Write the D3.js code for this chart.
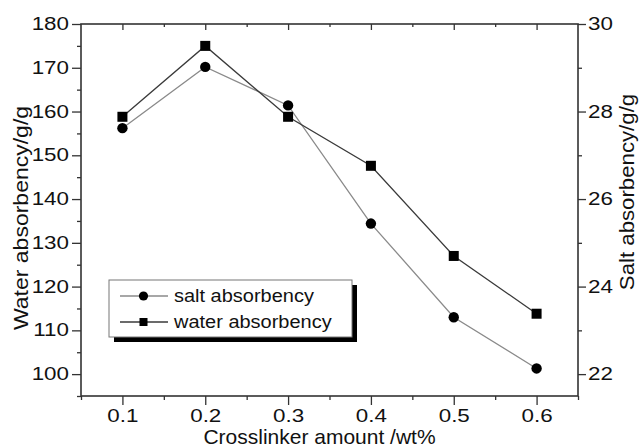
<!DOCTYPE html>
<html>
<head>
<meta charset="utf-8">
<script src="https://cdn.jsdelivr.net/npm/d3@7"></script>
<style>
  html, body { margin: 0; padding: 0; background: #fff; }
  svg { display: block; font-family: "Liberation Sans", Arial, sans-serif; }
</style>
</head>
<body>
<svg id="chart" width="639" height="448"></svg>
<script>
// Crosslinker amount (wt%) against water and salt absorbency (g/g)
const crosslinker = [0.1, 0.2, 0.3, 0.4, 0.5, 0.6];
const waterAbsorbency = [158.8, 175.0, 158.8, 147.6, 127.0, 113.8];
const saltAbsorbency = [27.62, 29.02, 28.14, 25.44, 23.30, 22.13];
const xTicks = [0.1, 0.2, 0.3, 0.4, 0.5, 0.6];
const xMinorTicks = [0.05, 0.15, 0.25, 0.35, 0.45, 0.55, 0.65];
const waterTicks = [100, 110, 120, 130, 140, 150, 160, 170, 180];
const waterMinorTicks = [95, 105, 115, 125, 135, 145, 155, 165, 175];
const saltTicks = [22, 24, 26, 28, 30];
const saltMinorTicks = [23, 25, 27, 29];
const legendLabels = ["salt absorbency", "water absorbency"];

const svg = d3.select("#chart");
const plotL = 81, plotR = 578, plotT = 24, plotB = 396;
const axisColor = "#333";
const textColor = "#111";
const tickFont = 17.5, tickStretch = 1.28;

const x = d3.scaleLinear().domain([0.05, 0.65]).range([plotL, plotR]);
const yWater = d3.scaleLinear().domain([95, 180]).range([plotB, plotT]);
const ySalt = d3.scaleLinear().domain([21.5, 30]).range([plotB, plotT]);

// Widen glyphs horizontally while keeping each label anchored in place
function widen(textSel, sx) {
  textSel.each(function () {
    const t = d3.select(this);
    const x0 = +t.attr("x") || 0;
    t.attr("x", x0 / sx).attr("transform", `scale(${sx},1)`);
  });
}

function styleAxis(g) {
  g.select(".domain").remove();
  g.selectAll(".tick line").attr("stroke", axisColor).attr("stroke-width", 1.3);
  const txt = g.selectAll(".tick text").attr("fill", textColor)
    .style("font-size", tickFont + "px")
    .style("font-family", '"Liberation Sans", Arial, sans-serif');
  widen(txt, tickStretch);
}

// Bottom axis
svg.append("g").attr("transform", `translate(0,${plotB})`)
  .call(d3.axisBottom(x).tickValues(xMinorTicks).tickSize(4).tickFormat(""))
  .call(styleAxis);
svg.append("g").attr("transform", `translate(0,${plotB})`)
  .call(d3.axisBottom(x).tickValues(xTicks).tickSize(9).tickPadding(5).tickFormat(d3.format(".1f")))
  .call(styleAxis);

// Top axis, ticks pointing inward
svg.append("g").attr("transform", `translate(0,${plotT})`)
  .call(d3.axisTop(x).tickValues(xMinorTicks.slice(1, -1)).tickSize(-3).tickFormat(""))
  .call(styleAxis);
svg.append("g").attr("transform", `translate(0,${plotT})`)
  .call(d3.axisTop(x).tickValues(xTicks).tickSize(-6).tickFormat(""))
  .call(styleAxis);

// Left axis (water absorbency)
svg.append("g").attr("transform", `translate(${plotL},0)`)
  .call(d3.axisLeft(yWater).tickValues(waterMinorTicks).tickSize(4).tickFormat(""))
  .call(styleAxis);
svg.append("g").attr("transform", `translate(${plotL},0)`)
  .call(d3.axisLeft(yWater).tickValues(waterTicks).tickSize(9).tickPadding(3).tickFormat(d3.format("d")))
  .call(styleAxis);

// Right axis (salt absorbency)
svg.append("g").attr("transform", `translate(${plotR},0)`)
  .call(d3.axisRight(ySalt).tickValues(saltMinorTicks).tickSize(4).tickFormat(""))
  .call(styleAxis);
svg.append("g").attr("transform", `translate(${plotR},0)`)
  .call(d3.axisRight(ySalt).tickValues(saltTicks).tickSize(8).tickPadding(2).tickFormat(d3.format("d")))
  .call(styleAxis);

// Plot frame
svg.append("rect")
  .attr("x", plotL).attr("y", plotT)
  .attr("width", plotR - plotL).attr("height", plotB - plotT)
  .attr("fill", "none").attr("stroke", axisColor).attr("stroke-width", 1.6);

// Axis titles
svg.append("text")
  .attr("x", 319.5).attr("y", 443.5)
  .attr("text-anchor", "middle").style("font-size", "21px").attr("fill", textColor)
  .text("Crosslinker amount /wt%");
svg.append("text")
  .attr("transform", "translate(28,218) rotate(-90) scale(1.18,1)")
  .attr("text-anchor", "middle").style("font-size", "19.5px").attr("fill", textColor)
  .text("Water absorbency/g/g");
svg.append("text")
  .attr("transform", "translate(634,192) rotate(-90) scale(1.14,1)")
  .attr("text-anchor", "middle").style("font-size", "19.5px").attr("fill", textColor)
  .text("Salt absorbency/g/g");

// Series lines
const waterLine = d3.line().x((d, i) => x(crosslinker[i])).y(d => yWater(d));
const saltLine = d3.line().x((d, i) => x(crosslinker[i])).y(d => ySalt(d));

svg.append("path").datum(saltAbsorbency).attr("d", saltLine)
  .attr("fill", "none").attr("stroke", "#8a8a8a").attr("stroke-width", 1.3);
svg.append("path").datum(waterAbsorbency).attr("d", waterLine)
  .attr("fill", "none").attr("stroke", "#3a3a3a").attr("stroke-width", 1.3);

// Markers
svg.selectAll(".salt-pt").data(saltAbsorbency).join("circle")
  .attr("class", "salt-pt")
  .attr("cx", (d, i) => x(crosslinker[i])).attr("cy", d => ySalt(d))
  .attr("r", 5.2).attr("fill", "#000");
svg.selectAll(".water-pt").data(waterAbsorbency).join("rect")
  .attr("class", "water-pt")
  .attr("x", (d, i) => x(crosslinker[i]) - 5).attr("y", d => yWater(d) - 5)
  .attr("width", 10).attr("height", 10).attr("fill", "#000");

// Legend with drop shadow
const lg = svg.append("g").attr("transform", "translate(109,280)");
const lw = 243, lh = 57;
lg.append("rect").attr("x", 5).attr("y", 5).attr("width", lw).attr("height", lh).attr("fill", "#000");
lg.append("rect").attr("x", 0).attr("y", 0).attr("width", lw).attr("height", lh)
  .attr("fill", "#fff").attr("stroke", "#777").attr("stroke-width", 1);

const rows = [
  { label: legendLabels[0], color: "#8a8a8a", shape: "circle", y: 16 },
  { label: legendLabels[1], color: "#3a3a3a", shape: "square", y: 42 }
];
rows.forEach(r => {
  lg.append("line").attr("x1", 11).attr("x2", 59).attr("y1", r.y).attr("y2", r.y)
    .attr("stroke", r.color).attr("stroke-width", 1.3);
  if (r.shape === "circle") {
    lg.append("circle").attr("cx", 34.5).attr("cy", r.y).attr("r", 4.6).attr("fill", "#000");
  } else {
    lg.append("rect").attr("x", 30.5).attr("y", r.y - 4).attr("width", 8).attr("height", 8).attr("fill", "#000");
  }
  const t = lg.append("text").attr("x", 65).attr("y", r.y).attr("dy", "0.35em")
    .style("font-size", "18.5px").attr("fill", textColor).text(r.label);
  widen(t, 1.08);
});
</script>
</body>
</html>
